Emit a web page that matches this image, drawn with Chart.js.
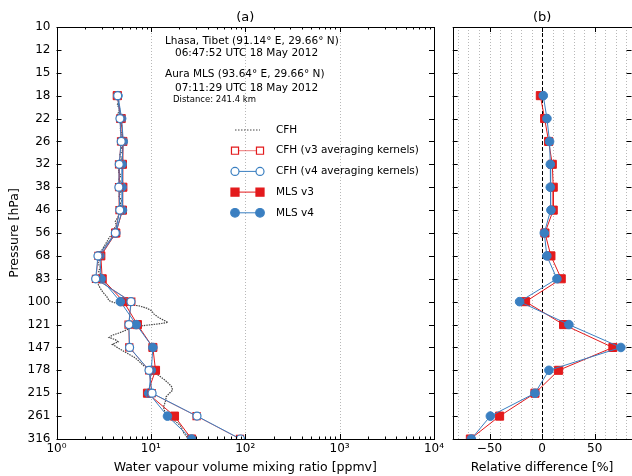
<!DOCTYPE html>
<html>
<head>
<meta charset="utf-8">
<script src="https://cdn.jsdelivr.net/npm/chart.js@4.4.1/dist/chart.umd.min.js"></script>
<style>
  body { margin: 0; background: #fff; width: 632px; height: 476px; overflow: hidden; position: relative; }
  canvas { position: absolute; top: 0; }
  #left { left: 0; }
  #right { left: 440px; }
</style>
</head>
<body>
<canvas id="left" width="452" height="476"></canvas>
<canvas id="right" width="192" height="476"></canvas>
<script>
// pressure levels (hPa) with markers
let levels = [17.78, 21.54, 26.10, 31.62, 38.31, 46.42, 56.23, 68.13, 82.54, 100.0, 121.2, 146.8, 177.8, 215.4, 261.0, 316.2];
let tickLevels = [10, 12.12, 14.68, 17.78, 21.54, 26.10, 31.62, 38.31, 46.42, 56.23, 68.13, 82.54, 100, 121.2, 146.8, 177.8, 215.4, 261.0, 316.2];
let tickLabels = ['10', '12', '15', '18', '22', '26', '32', '38', '46', '56', '68', '83', '100', '121', '147', '178', '215', '261', '316'];

// water vapour [ppmv]
let cfhAkV3 = [4.46, 4.72, 4.83, 4.60, 4.60, 4.65, 4.18, 2.78, 2.62, 6.20, 5.80, 5.90, 9.60, 10.2, 30.5, 88.0];
let cfhAkV4 = [4.45, 4.70, 4.85, 4.62, 4.58, 4.68, 4.20, 2.75, 2.60, 6.15, 5.85, 5.95, 9.55, 10.3, 30.8, 89.0];
let mlsV3 = [4.40, 4.85, 5.05, 5.00, 5.05, 5.00, 4.25, 2.95, 3.05, 5.15, 7.20, 10.5, 11.2, 9.20, 17.8, 27.0];
let mlsV4 = [4.48, 4.90, 5.10, 4.95, 4.95, 5.00, 4.25, 2.88, 2.97, 4.75, 7.00, 10.5, 10.1, 9.50, 15.0, 27.0];

// relative difference [%]
let diffV3 = [-1.7, 2.4, 6.2, 9.7, 10.6, 10.6, 2.7, 8.4, 18.2, -15.7, 20.4, 67.3, 15.7, -6.8, -40.4, -68.2];
let diffV4 = [1.1, 4.6, 7.1, 7.8, 7.8, 8.4, 2.1, 4.5, 14.1, -21.4, 25.5, 74.9, 6.5, -6.8, -49.2, -67.3];

// raw CFH sounding
let cfhPressure = [17.3, 17.9, 18.5, 19.2, 19.9, 20.6, 21.3, 22.0, 22.8, 23.6, 24.4, 25.3, 26.2, 27.1, 28.1, 29.1, 30.1, 31.2, 32.3, 33.5,
  34.7, 35.9, 37.2, 38.5, 39.9, 41.3, 42.8, 44.3, 45.9, 47.5, 49.2, 51.0, 52.8, 54.7, 56.6, 58.6, 60.7, 62.9, 65.1, 67.4,
  69.8, 72.3, 74.9, 77.6, 80.3, 83.2, 86.2, 89.2, 92.4, 95.7, 99.1, 101.5, 103.5, 105.5, 108, 111, 114, 117, 119, 120.5,
  122.5, 125, 127.5, 130, 132.5, 135, 137.5, 140, 143, 146, 150, 154, 159, 164, 170, 175, 180, 186, 192, 198,
  204, 210, 216, 222, 228, 235, 242, 250, 257, 264, 272, 280, 288, 298, 308, 316];
let cfhValue = [4.5, 4.3, 4.6, 4.4, 4.7, 4.5, 4.8, 4.6, 4.9, 4.7, 5.0, 4.8, 5.1, 4.8, 5.0, 4.7, 4.9, 4.6, 4.8, 4.5,
  4.8, 4.6, 4.9, 4.6, 4.8, 4.6, 4.9, 4.7, 4.9, 4.6, 4.5, 4.2, 4.3, 4.0, 3.9, 3.6, 3.4, 3.2, 3.0, 2.8,
  2.9, 2.75, 2.9, 2.8, 3.0, 2.8, 2.75, 2.9, 3.1, 3.4, 3.6, 4.3, 7.4, 9.0, 10.2, 10.8, 12.0, 13.8, 15.2, 12.0,
  7.8, 6.0, 5.3, 4.6, 3.9, 3.6, 4.2, 4.5, 3.9, 4.3, 4.9, 5.6, 6.6, 7.4, 8.2, 9.2, 10.4, 12.2, 13.8, 15.3,
  16.6, 17.0, 15.6, 14.5, 14.4, 14.0, 13.6, 14.0, 14.8, 15.8, 18.0, 20.0, 21.2, 22.0, 23.5, 25.0];

let red = '#e31a1c';
let blue = '#3a7fc1';
let gray = '#444';
let font = '"DejaVu Sans", sans-serif';

Chart.defaults.font.family = font;
Chart.defaults.color = '#000';
Chart.defaults.animation = false;

function pts(vals) {
  return vals.map((v, i) => ({ x: v, y: levels[i] }));
}

function drawMarker(ctx, style, x, y, r, fill, stroke, lw) {
  ctx.save();
  ctx.fillStyle = fill;
  ctx.strokeStyle = stroke;
  ctx.lineWidth = lw;
  ctx.setLineDash([]);
  ctx.beginPath();
  if (style === 'rect') {
    let s = r * Math.SQRT1_2;
    ctx.rect(x - s, y - s, 2 * s, 2 * s);
  } else {
    ctx.arc(x, y, r, 0, Math.PI * 2);
  }
  ctx.fill();
  if (lw > 0) ctx.stroke();
  ctx.restore();
}

// inward ticks, frame and grid
function axesPlugin(cfg) {
  return {
    id: 'axesDeco',
    beforeDatasetsDraw(chart) {
      let ctx = chart.ctx, a = chart.chartArea, xs = chart.scales.x;
      ctx.save();
      ctx.lineWidth = 1;
      ctx.strokeStyle = '#b8b8b8';
      ctx.setLineDash([1, 2]);
      ctx.beginPath();
      cfg.grid.forEach(v => {
        let x = Math.round(xs.getPixelForValue(v)) + 0.5;
        ctx.moveTo(x, a.top);
        ctx.lineTo(x, a.bottom);
      });
      ctx.stroke();
      if (cfg.zeroLine) {
        let x = Math.round(xs.getPixelForValue(0)) + 0.5;
        ctx.strokeStyle = '#000';
        ctx.setLineDash([4, 2]);
        ctx.beginPath();
        ctx.moveTo(x, a.top);
        ctx.lineTo(x, a.bottom);
        ctx.stroke();
      }
      ctx.restore();
    },
    afterDraw(chart) {
      let ctx = chart.ctx, a = chart.chartArea, xs = chart.scales.x, ys = chart.scales.y;
      ctx.save();
      ctx.strokeStyle = '#000';
      ctx.lineWidth = 1;
      ctx.setLineDash([]);
      ctx.beginPath();
      tickLevels.forEach(p => {
        let y = Math.round(ys.getPixelForValue(p)) + 0.5;
        ctx.moveTo(a.left, y); ctx.lineTo(a.left + 5, y);
        ctx.moveTo(a.right, y); ctx.lineTo(a.right - 5, y);
      });
      cfg.xMajor.forEach(v => {
        let x = Math.round(xs.getPixelForValue(v)) + 0.5;
        ctx.moveTo(x, a.bottom); ctx.lineTo(x, a.bottom - 5);
        ctx.moveTo(x, a.top); ctx.lineTo(x, a.top + 5);
      });
      cfg.xMinor.forEach(v => {
        let x = Math.round(xs.getPixelForValue(v)) + 0.5;
        ctx.moveTo(x, a.bottom); ctx.lineTo(x, a.bottom - 2.5);
        ctx.moveTo(x, a.top); ctx.lineTo(x, a.top + 2.5);
      });
      ctx.stroke();
      ctx.strokeRect(Math.round(a.left) + 0.5, Math.round(a.top) + 0.5,
        Math.round(a.right) - Math.round(a.left), Math.round(a.bottom) - Math.round(a.top));

      ctx.fillStyle = '#000';
      ctx.textAlign = 'center';
      ctx.textBaseline = 'middle';
      ctx.font = '13px ' + font;
      ctx.fillText(cfg.title, (a.left + a.right) / 2, 18);
      ctx.restore();
    }
  };
}

let legendItems = [
  { label: 'CFH', color: gray, dash: [1.5, 1.5], marker: null },
  { label: 'CFH (v3 averaging kernels)', color: 'rgba(227,26,28,0.6)', dash: [], marker: 'rect', r: 5, fill: '#fff', stroke: red },
  { label: 'CFH (v4 averaging kernels)', color: blue, dash: [], marker: 'circle', r: 4, fill: '#fff', stroke: blue },
  { label: 'MLS v3', color: red, dash: [], marker: 'rect', r: 5.7, fill: red, stroke: red },
  { label: 'MLS v4', color: blue, dash: [], marker: 'circle', r: 4.3, fill: blue, stroke: blue }
];

let textPlugin = {
  id: 'texts',
  afterDraw(chart) {
    let ctx = chart.ctx;
    ctx.save();
    ctx.fillStyle = '#000';
    ctx.textBaseline = 'middle';
    ctx.textAlign = 'left';
    ctx.font = '10.5px ' + font;
    ctx.fillText('Lhasa, Tibet (91.14° E, 29.66° N)', 165, 41);
    ctx.fillText('06:47:52 UTC 18 May 2012', 175, 53);
    ctx.fillText('Aura MLS (93.64° E, 29.66° N)', 165, 74.5);
    ctx.fillText('07:11:29 UTC 18 May 2012', 175, 88);
    ctx.font = '8.5px ' + font;
    ctx.fillText('Distance: 241.4 km', 173, 100);

    legendItems.forEach((it, i) => {
      let y = 130 + i * 20.7;
      ctx.save();
      ctx.strokeStyle = it.color;
      ctx.lineWidth = 1;
      ctx.setLineDash(it.dash);
      ctx.beginPath();
      ctx.moveTo(235, y);
      ctx.lineTo(260, y);
      ctx.stroke();
      ctx.restore();
      if (it.marker) {
        drawMarker(ctx, it.marker, 235, y, it.r, it.fill, it.stroke, 1.2);
        drawMarker(ctx, it.marker, 260, y, it.r, it.fill, it.stroke, 1.2);
      }
      ctx.font = '10.5px ' + font;
      ctx.fillStyle = '#000';
      ctx.fillText(it.label, 276, y);
    });
    ctx.restore();
  }
};

function noSidePad(s) {
  s.paddingLeft = 0;
  s.paddingRight = 0;
}

function yScale(display) {
  return {
    type: 'logarithmic',
    reverse: true,
    min: 10,
    max: 316.23,
    display: display,
    afterBuildTicks: s => { s.ticks = tickLevels.map(v => ({ value: v })); },
    afterFit: s => { s.width = display ? 56.5 : 0; s.paddingTop = 0; s.paddingBottom = 0; },
    border: { display: false },
    grid: { display: false, drawTicks: false },
    ticks: {
      padding: 6,
      font: { size: 12 },
      callback: (v, i) => tickLabels[i]
    },
    title: { display: true, text: 'Pressure [hPa]', font: { size: 12.5 }, padding: { top: 7.5, bottom: 0 } }
  };
}

let sup = { 0: '⁰', 1: '¹', 2: '²', 3: '³', 4: '⁴' };

let minorLog = [];
[1, 10, 100, 1000].forEach(d => { for (let k = 2; k <= 9; k++) minorLog.push(k * d); });

new Chart(document.getElementById('left'), {
  type: 'scatter',
  data: {
    datasets: [
      {
        label: 'CFH (v4 averaging kernels)', data: pts(cfhAkV4), showLine: true,
        borderColor: blue, borderWidth: 1, pointStyle: 'circle', pointRadius: 4,
        pointBackgroundColor: '#fff', pointBorderColor: blue, pointBorderWidth: 1.2
      },
      {
        label: 'CFH (v3 averaging kernels)', data: pts(cfhAkV3), showLine: true,
        borderColor: 'rgba(227,26,28,0.6)', borderWidth: 1, pointStyle: 'rect', pointRadius: 5,
        pointBackgroundColor: '#fff', pointBorderColor: red, pointBorderWidth: 1.2
      },
      {
        label: 'MLS v4', data: pts(mlsV4), showLine: true,
        borderColor: blue, borderWidth: 1, pointStyle: 'circle', pointRadius: 4.3,
        pointBackgroundColor: blue, pointBorderColor: blue, pointBorderWidth: 1
      },
      {
        label: 'MLS v3', data: pts(mlsV3), showLine: true,
        borderColor: red, borderWidth: 1, pointStyle: 'rect', pointRadius: 5.7,
        pointBackgroundColor: red, pointBorderColor: red, pointBorderWidth: 1
      },
      {
        label: 'CFH', data: cfhPressure.map((p, i) => ({ x: cfhValue[i], y: p })), showLine: true,
        borderColor: gray, borderWidth: 1.2, borderDash: [1.5, 1], pointRadius: 0
      }
    ]
  },
  options: {
    responsive: false,
    devicePixelRatio: 1,
    layout: { autoPadding: false, padding: { top: 27, right: 18, left: 0, bottom: 0 } },
    plugins: { legend: { display: false }, tooltip: { enabled: false } },
    elements: { line: { tension: 0 } },
    scales: {
      x: {
        type: 'logarithmic',
        min: 1,
        max: 10000,
        afterBuildTicks: s => { s.ticks = [1, 10, 100, 1000, 10000].map(v => ({ value: v })); },
        afterFit: s => { s.height = 37; noSidePad(s); },
        border: { display: false },
        grid: { display: false, drawTicks: false },
        ticks: {
          padding: 3,
          maxRotation: 0,
          font: { size: 12 },
          callback: v => '10' + sup[Math.round(Math.log10(v))]
        },
        title: { display: true, text: 'Water vapour volume mixing ratio [ppmv]', font: { size: 12.5 }, padding: { top: 0, bottom: 1 } }
      },
      y: yScale(true)
    }
  },
  plugins: [axesPlugin({ title: '(a)', grid: [10, 100, 1000], xMajor: [1, 10, 100, 1000, 10000], xMinor: minorLog }), textPlugin]
});

let relGrid = [];
for (let v = -80; v <= 80; v += 10) if (v !== 0) relGrid.push(v);

new Chart(document.getElementById('right'), {
  type: 'scatter',
  data: {
    datasets: [
      {
        label: 'MLS v4', data: pts(diffV4), showLine: true,
        borderColor: blue, borderWidth: 1, pointStyle: 'circle', pointRadius: 4.3,
        pointBackgroundColor: blue, pointBorderColor: blue, pointBorderWidth: 1
      },
      {
        label: 'MLS v3', data: pts(diffV3), showLine: true,
        borderColor: red, borderWidth: 1, pointStyle: 'rect', pointRadius: 5.7,
        pointBackgroundColor: red, pointBorderColor: red, pointBorderWidth: 1
      }
    ]
  },
  options: {
    responsive: false,
    devicePixelRatio: 1,
    layout: { autoPadding: false, padding: { top: 27, right: 0.5, left: 12.7, bottom: 0 } },
    plugins: { legend: { display: false }, tooltip: { enabled: false } },
    elements: { line: { tension: 0 } },
    scales: {
      x: {
        type: 'linear',
        min: -85,
        max: 85,
        afterBuildTicks: s => { s.ticks = [-50, 0, 50].map(v => ({ value: v })); },
        afterFit: s => { s.height = 37; noSidePad(s); },
        border: { display: false },
        grid: { display: false, drawTicks: false },
        ticks: {
          padding: 3,
          maxRotation: 0,
          font: { size: 12 },
          callback: v => (v < 0 ? '\u2212' + Math.abs(v) : String(v))
        },
        title: { display: true, text: 'Relative difference [%]', font: { size: 12.5 }, padding: { top: 0, bottom: 1 } }
      },
      y: yScale(false)
    }
  },
  plugins: [axesPlugin({ title: '(b)', grid: relGrid, zeroLine: true, xMajor: [-50, 0, 50], xMinor: [] })]
});
</script>
</body>
</html>
